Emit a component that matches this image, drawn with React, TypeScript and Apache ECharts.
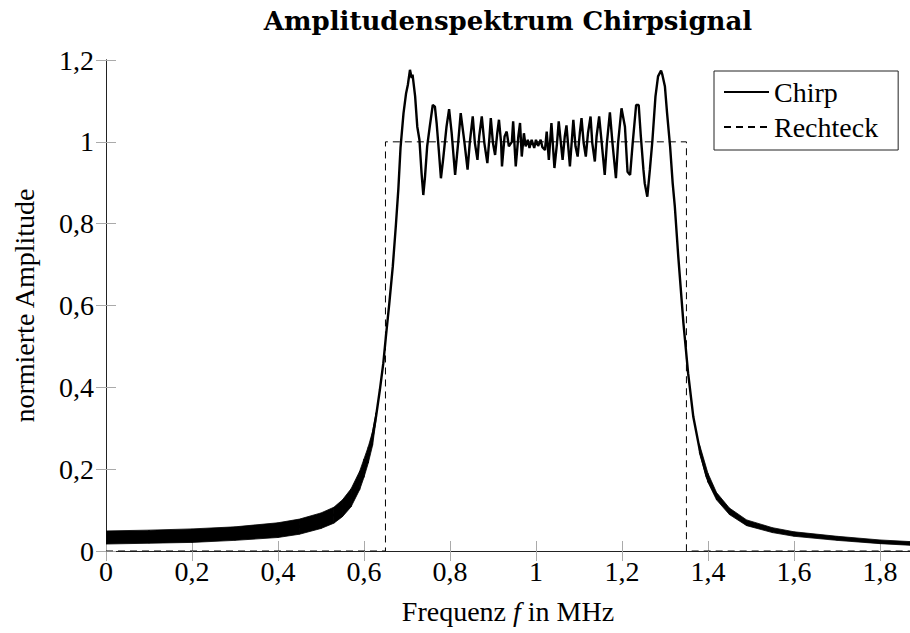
import React, { useEffect, useRef } from "react";
import * as echarts from "echarts";

// ---- Data ----
const titleText = "Amplitudenspektrum Chirpsignal";
const seriesNames = ["Chirp", "Rechteck"];

// Chirp spectrum: centre line
const chirpFreq = [
  0, 0.1, 0.2, 0.3, 0.4, 0.45, 0.5, 0.53, 0.55, 0.57, 0.59, 0.6, 0.61, 0.618, 0.628, 0.637, 0.645, 0.651, 0.659,
  0.667, 0.674, 0.68, 0.685, 0.692, 0.698, 0.702, 0.707, 0.711, 0.713, 0.719, 0.724, 0.729, 0.734, 0.738, 0.742,
  0.747, 0.753, 0.76, 0.765, 0.769, 0.774, 0.779, 0.784, 0.792, 0.798, 0.804, 0.812, 0.819, 0.825, 0.833, 0.841,
  0.846, 0.853, 0.858, 0.864, 0.868, 0.874, 0.88, 0.887, 0.892, 0.895, 0.9, 0.905, 0.91, 0.914, 0.919, 0.921,
  0.927, 0.932, 0.937, 0.944, 0.947, 0.953, 0.959, 0.963, 0.967, 0.972, 0.976, 0.981, 0.985, 0.99, 0.996, 1.0,
  1.005, 1.011, 1.015, 1.021, 1.025, 1.03, 1.036, 1.043, 1.049, 1.053, 1.058, 1.062, 1.067, 1.071, 1.075, 1.079,
  1.087, 1.092, 1.097, 1.102, 1.106, 1.111, 1.116, 1.121, 1.127, 1.131, 1.137, 1.141, 1.147, 1.153, 1.16, 1.165,
  1.172, 1.178, 1.186, 1.191, 1.199, 1.207, 1.213, 1.219, 1.225, 1.233, 1.239, 1.244, 1.25, 1.253, 1.259, 1.265,
  1.271, 1.278, 1.284, 1.291, 1.294, 1.3, 1.305, 1.312, 1.318, 1.323, 1.331, 1.343, 1.354, 1.366, 1.381, 1.397,
  1.42, 1.451, 1.49, 1.55, 1.6, 1.7, 1.8, 1.87,
];
const chirpAmp = [
  0.033, 0.035, 0.037, 0.042, 0.051, 0.06, 0.074, 0.088, 0.105, 0.13, 0.172, 0.203, 0.235, 0.271, 0.328, 0.394,
  0.459, 0.524, 0.606, 0.695, 0.793, 0.885, 0.985, 1.07, 1.119, 1.139, 1.176, 1.156, 1.164, 1.111, 1.037, 1.005,
  0.923, 0.87, 0.915, 0.989, 1.037, 1.09, 1.086, 1.046, 0.98, 0.911, 0.956, 1.037, 1.08, 1.021, 0.919, 0.997,
  1.07, 1.005, 0.932, 0.997, 1.062, 0.997, 0.956, 1.013, 1.062, 0.997, 0.948, 1.013, 1.058, 0.997, 0.968, 1.021,
  1.054, 0.997, 0.94, 1.013, 1.025, 0.989, 1.0, 1.05, 0.94, 1.013, 1.046, 0.964, 1.021, 0.989, 1.005, 0.985,
  1.005, 0.985, 1.005, 0.99, 1.005, 0.987, 0.98, 1.025, 0.956, 1.046, 0.936, 0.997, 1.05, 0.997, 0.956, 1.013,
  1.04, 0.99, 0.94, 1.054, 0.989, 0.964, 1.021, 1.058, 0.997, 0.964, 1.021, 1.062, 0.997, 0.952, 1.013, 1.062,
  0.997, 0.919, 0.997, 1.072, 0.997, 0.911, 0.997, 1.082, 1.037, 0.927, 0.919, 0.997, 1.09, 1.09, 1.013, 0.932,
  0.899, 0.866, 0.932, 1.005, 1.111, 1.16, 1.174, 1.164, 1.135, 1.07, 0.989, 0.899, 0.842, 0.72, 0.557, 0.434,
  0.328, 0.247, 0.182, 0.133, 0.096, 0.068, 0.05, 0.041, 0.03, 0.022, 0.018,
];

// Chirp spectrum: fast ripple band in the low-frequency tail
const bandLeftFreq = [0, 0.1, 0.2, 0.3, 0.4, 0.45, 0.5, 0.53, 0.55, 0.57, 0.59, 0.6, 0.61, 0.62, 0.628];
const bandLeftLow = [0.017, 0.019, 0.021, 0.026, 0.033, 0.041, 0.055, 0.068, 0.084, 0.108, 0.15, 0.18, 0.215, 0.258, 0.318];
const bandLeftHigh = [0.049, 0.051, 0.054, 0.059, 0.069, 0.078, 0.093, 0.107, 0.125, 0.152, 0.195, 0.225, 0.255, 0.292, 0.338];

// Chirp spectrum: fast ripple band in the high-frequency tail
const bandRightFreq = [1.38, 1.4, 1.42, 1.45, 1.49, 1.55, 1.6, 1.7, 1.8, 1.87];
const bandRightLow = [0.24, 0.168, 0.125, 0.089, 0.062, 0.045, 0.036, 0.026, 0.018, 0.014];
const bandRightHigh = [0.262, 0.19, 0.143, 0.105, 0.076, 0.057, 0.047, 0.036, 0.027, 0.023];

// Rechteck (ideal rectangular spectrum)
const rectFreq = [0, 0.65, 0.65, 1.35, 1.35, 1.87];
const rectAmp = [0, 0, 1, 1, 0, 0];

// Axes
const xMin = 0;
const xMax = 1.87;
const xStep = 0.2;
const yMin = 0;
const yMax = 1.2;
const yStep = 0.2;

const SERIF = "'Liberation Serif', 'Times New Roman', serif";

function tickFmt(step: number) {
  return (v: number) => {
    const k = v / step;
    if (Math.abs(k - Math.round(k)) > 1e-6) return "";
    return String(+v.toFixed(2)).replace(".", ",");
  };
}

function makeBand(name: string, xs: number[], lo: number[], hi: number[]) {
  return {
    name,
    type: "custom",
    silent: true,
    clip: true,
    z: 3,
    encode: { x: 0, y: [1, 2] },
    data: xs.map((x, i) => [x, lo[i], hi[i]]),
    renderItem: (params: any, api: any) => {
      const i = params.dataIndex;
      if (i >= xs.length - 1) return { type: "group", children: [] };
      const pts = [
        api.coord([xs[i], hi[i]]),
        api.coord([xs[i + 1], hi[i + 1]]),
        api.coord([xs[i + 1], lo[i + 1]]),
        api.coord([xs[i], lo[i]]),
      ];
      return {
        type: "polygon",
        shape: { points: pts },
        style: { fill: "#000", stroke: "#000", lineWidth: 0.8 },
      };
    },
  };
}

export default function App() {
  const ref = useRef<HTMLDivElement>(null);

  useEffect(() => {
    if (!ref.current) return;
    const chart = echarts.init(ref.current, undefined, { renderer: "svg" });

    const axisLine = { show: true, lineStyle: { color: "#222", width: 1 } };
    const axisTick = { show: true, inside: true, length: 10, lineStyle: { color: "#aaa", width: 1 } };

    const option: any = {
      animation: false,
      backgroundColor: "#fff",
      graphic: [
        {
          type: "text",
          x: 508,
          y: 21,
          style: {
            text: titleText,
            font: "bold 26px 'DejaVu Serif', serif",
            fill: "#000",
            textAlign: "center",
            textVerticalAlign: "middle",
          },
        },
      ],
      grid: { left: 106, top: 60, right: 0, bottom: 82, containLabel: false },
      legend: {
        data: seriesNames,
        orient: "vertical",
        left: 714,
        top: 71,
        itemWidth: 45,
        itemHeight: 14,
        itemGap: 5,
        padding: [6, 20, 8, 9],
        borderColor: "#222",
        borderWidth: 1,
        backgroundColor: "#fff",
        itemStyle: { opacity: 0 },
        textStyle: { fontFamily: SERIF, fontSize: 28, color: "#000", lineHeight: 30 },
      },
      xAxis: [
        {
          type: "value",
          min: xMin,
          max: xMax,
          interval: xStep,
          position: "bottom",
          axisLine,
          axisTick,
          splitLine: { show: false },
          axisLabel: {
            fontFamily: SERIF,
            fontSize: 28,
            color: "#000",
            margin: 6,
            showMaxLabel: false,
            formatter: tickFmt(xStep),
          },
          name: "Frequenz {i|f} in MHz",
          nameLocation: "middle",
          nameGap: 46,
          nameTextStyle: {
            fontFamily: SERIF,
            fontSize: 28,
            color: "#000",
            rich: { i: { fontFamily: SERIF, fontSize: 28, fontStyle: "italic", color: "#000" } },
          },
        },
        {
          type: "value",
          min: xMin,
          max: xMax,
          interval: xStep,
          position: "top",
          axisLine,
          axisTick,
          splitLine: { show: false },
          axisLabel: { show: false },
        },
      ],
      yAxis: [
        {
          type: "value",
          min: yMin,
          max: yMax,
          interval: yStep,
          position: "left",
          axisLine,
          axisTick,
          splitLine: { show: false },
          axisLabel: {
            fontFamily: SERIF,
            fontSize: 28,
            color: "#000",
            margin: 12,
            formatter: tickFmt(yStep),
          },
          name: "normierte Amplitude",
          nameLocation: "middle",
          nameGap: 68,
          nameTextStyle: { fontFamily: SERIF, fontSize: 28, color: "#000" },
        },
        {
          type: "value",
          min: yMin,
          max: yMax,
          interval: yStep,
          position: "right",
          axisLine,
          axisTick,
          splitLine: { show: false },
          axisLabel: { show: false },
        },
      ],
      series: [
        makeBand("bandLeft", bandLeftFreq, bandLeftLow, bandLeftHigh),
        makeBand("bandRight", bandRightFreq, bandRightLow, bandRightHigh),
        {
          name: seriesNames[0],
          type: "line",
          symbol: "none",
          z: 4,
          data: chirpFreq.map((f, i) => [f, chirpAmp[i]]),
          lineStyle: { color: "#000", width: 2.4 },
          itemStyle: { color: "#000" },
        },
        {
          name: seriesNames[1],
          type: "line",
          symbol: "none",
          z: 5,
          data: rectFreq.map((f, i) => [f, rectAmp[i]]),
          lineStyle: { color: "#000", width: 1, type: [7, 5] },
          itemStyle: { color: "#000" },
        },
      ],
    };

    chart.setOption(option);
    return () => chart.dispose();
  }, []);

  return (
    <div
      ref={ref}
      style={{ position: "fixed", left: 0, top: 0, width: 910, height: 633, background: "#fff" }}
    />
  );
}
